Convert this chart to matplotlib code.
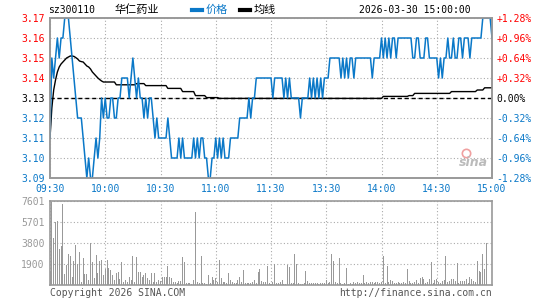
import numpy as np
import matplotlib
matplotlib.use('Agg')
import matplotlib.pyplot as plt
from matplotlib.lines import Line2D

plt.rcParams['font.family'] = ['DejaVu Sans Mono', 'Noto Sans CJK SC']

BLUE = '#0A78C8'
RED = '#FF0000'
GREY = '#999999'

code = 'sz300110'
name = '华仁药业'
stamp = '2026-03-30 15:00:00'
prev_close = 3.13

# one value per minute, 09:30 .. 11:30, 13:01 .. 15:00
price = [
    3.11, 3.15, 3.14, 3.15, 3.16, 3.15, 3.16, 3.16, 3.17, 3.17,
    3.17, 3.16, 3.15, 3.14, 3.13, 3.12, 3.12, 3.12, 3.11, 3.10,
    3.09, 3.10, 3.09, 3.09, 3.10, 3.11, 3.10, 3.11, 3.13, 3.12,
    3.13, 3.12, 3.12, 3.13, 3.13, 3.12, 3.12, 3.13, 3.13, 3.14,
    3.14, 3.14, 3.14, 3.13, 3.14, 3.15, 3.14, 3.13, 3.14, 3.13,
    3.13, 3.12, 3.13, 3.12, 3.13, 3.13, 3.12, 3.11, 3.12, 3.11,
    3.11, 3.11, 3.11, 3.11, 3.12, 3.11, 3.10, 3.10, 3.10, 3.10,
    3.11, 3.10, 3.11, 3.10, 3.10, 3.10, 3.10, 3.10, 3.11, 3.10,
    3.11, 3.10, 3.11, 3.11, 3.10, 3.10, 3.09, 3.09, 3.10, 3.10,
    3.11, 3.10, 3.11, 3.10, 3.11, 3.10, 3.10, 3.10, 3.11, 3.11,
    3.11, 3.11, 3.11, 3.12, 3.12, 3.12, 3.12, 3.12, 3.13, 3.12,
    3.13, 3.13, 3.14, 3.14, 3.14, 3.14, 3.14, 3.14, 3.14, 3.14,
    3.14, 3.13, 3.14, 3.14, 3.14, 3.14, 3.14, 3.13, 3.14, 3.13,
    3.14, 3.13, 3.13, 3.13, 3.13, 3.13, 3.12, 3.13, 3.13, 3.13,
    3.13, 3.14, 3.13, 3.14, 3.13, 3.14, 3.13, 3.14, 3.13, 3.14,
    3.14, 3.14, 3.15, 3.15, 3.15, 3.15, 3.15, 3.15, 3.14, 3.15,
    3.14, 3.15, 3.14, 3.15, 3.15, 3.14, 3.15, 3.15, 3.15, 3.15,
    3.15, 3.15, 3.15, 3.15, 3.15, 3.14, 3.15, 3.15, 3.15, 3.15,
    3.16, 3.15, 3.16, 3.15, 3.16, 3.15, 3.16, 3.16, 3.15, 3.16,
    3.16, 3.16, 3.16, 3.16, 3.16, 3.16, 3.16, 3.15, 3.15, 3.16,
    3.16, 3.15, 3.15, 3.15, 3.16, 3.16, 3.15, 3.15, 3.15, 3.15,
    3.15, 3.14, 3.15, 3.14, 3.15, 3.15, 3.16, 3.15, 3.15, 3.16,
    3.15, 3.15, 3.16, 3.16, 3.15, 3.16, 3.16, 3.16, 3.15, 3.16,
    3.16, 3.16, 3.16, 3.16, 3.16, 3.17, 3.17, 3.17, 3.17, 3.17,
    3.16,
]

avg_price = [
    3.1100, 3.1250, 3.1340, 3.1390, 3.1430, 3.1455, 3.1470, 3.1480, 3.1490, 3.1500,
    3.1505, 3.1510, 3.1510, 3.1508, 3.1502, 3.1495, 3.1485, 3.1482, 3.1480, 3.1470,
    3.1460, 3.1455, 3.1445, 3.1430, 3.1420, 3.1410, 3.1400, 3.1392, 3.1385, 3.1380,
    3.1380, 3.1380, 3.1380, 3.1380, 3.1380, 3.1380, 3.1366, 3.1366, 3.1366, 3.1366,
    3.1366, 3.1366, 3.1366, 3.1366, 3.1366, 3.1366, 3.1366, 3.1372, 3.1372, 3.1372,
    3.1372, 3.1372, 3.1362, 3.1362, 3.1362, 3.1362, 3.1362, 3.1362, 3.1362, 3.1362,
    3.1362, 3.1362, 3.1362, 3.1362, 3.1348, 3.1348, 3.1348, 3.1348, 3.1348, 3.1348,
    3.1348, 3.1348, 3.1332, 3.1332, 3.1332, 3.1332, 3.1332, 3.1332, 3.1332, 3.1312,
    3.1312, 3.1312, 3.1312, 3.1312, 3.1312, 3.1302, 3.1302, 3.1302, 3.1302, 3.1302,
    3.1302, 3.1302, 3.1298, 3.1298, 3.1298, 3.1298, 3.1298, 3.1298, 3.1298, 3.1298,
    3.1298, 3.1298, 3.1298, 3.1298, 3.1298, 3.1298, 3.1298, 3.1298, 3.1298, 3.1298,
    3.1298, 3.1298, 3.1298, 3.1298, 3.1298, 3.1298, 3.1298, 3.1298, 3.1298, 3.1298,
    3.1298, 3.1298, 3.1298, 3.1298, 3.1298, 3.1298, 3.1298, 3.1298, 3.1298, 3.1298,
    3.1298, 3.1298, 3.1298, 3.1298, 3.1298, 3.1298, 3.1298, 3.1298, 3.1298, 3.1298,
    3.1298, 3.1298, 3.1298, 3.1298, 3.1298, 3.1298, 3.1298, 3.1298, 3.1298, 3.1298,
    3.1298, 3.1298, 3.1298, 3.1298, 3.1298, 3.1298, 3.1298, 3.1298, 3.1298, 3.1298,
    3.1298, 3.1298, 3.1298, 3.1298, 3.1298, 3.1298, 3.1298, 3.1298, 3.1298, 3.1298,
    3.1298, 3.1298, 3.1298, 3.1298, 3.1298, 3.1298, 3.1298, 3.1298, 3.1298, 3.1298,
    3.1298, 3.1308, 3.1308, 3.1308, 3.1308, 3.1308, 3.1308, 3.1308, 3.1308, 3.1308,
    3.1308, 3.1308, 3.1308, 3.1308, 3.1308, 3.1312, 3.1312, 3.1312, 3.1323, 3.1323,
    3.1323, 3.1323, 3.1323, 3.1323, 3.1323, 3.1323, 3.1323, 3.1323, 3.1323, 3.1323,
    3.1323, 3.1323, 3.1323, 3.1323, 3.1323, 3.1323, 3.1323, 3.1323, 3.1332, 3.1332,
    3.1332, 3.1332, 3.1332, 3.1332, 3.1332, 3.1332, 3.1332, 3.1332, 3.1332, 3.1332,
    3.1332, 3.1332, 3.1340, 3.1340, 3.1340, 3.1340, 3.1351, 3.1351, 3.1351, 3.1351,
    3.1351,
]

volume = [
    1300, 7540, 4220, 5670, 5820, 3260, 3530, 7330, 1000, 1810,
    2800, 2620, 750, 2200, 3620, 1900, 2990, 300, 2440, 1000,
    1000, 450, 3770, 2110, 600, 2715, 1055, 2170, 2260, 900,
    1420, 2260, 1510, 1360, 900, 450, 1055, 1200, 510, 2110,
    300, 450, 300, 750, 450, 2620, 300, 2560, 1176, 1176,
    750, 900, 1055, 600, 450, 1115, 300, 1115, 300, 450,
    360, 694, 754, 754, 1720, 754, 600, 300, 300, 150,
    390, 360, 2560, 2110, 150, 210, 150, 90, 450, 6640,
    300, 150, 2620, 210, 150, 90, 900, 150, 750, 450,
    600, 300, 2260, 600, 270, 300, 210, 1055, 450, 300,
    150, 210, 450, 750, 300, 1360, 150, 150, 150, 210,
    270, 450, 150, 1200, 1420, 360, 270, 300, 1720, 150,
    90, 300, 1900, 150, 150, 300, 450, 90, 90, 1810,
    1600, 150, 150, 2800, 1900, 150, 90, 90, 150, 1300,
    400, 200, 150, 150, 200, 150, 90, 150, 150, 150,
    450, 150, 300, 2800, 2200, 300, 150, 2440, 150, 90,
    150, 1540, 90, 150, 90, 300, 200, 250, 150, 200,
    900, 150, 250, 150, 300, 280, 200, 240, 300, 150,
    300, 2620, 150, 1720, 300, 450, 350, 200, 150, 300,
    150, 200, 300, 150, 1420, 380, 200, 150, 300, 450,
    150, 600, 694, 570, 150, 300, 570, 2080, 150, 450,
    500, 300, 150, 380, 450, 2620, 270, 380, 540, 500,
    400, 1960, 150, 340, 400, 340, 570, 200, 694, 500,
    340, 300, 2200, 1240, 1146, 2800, 1420, 3770, 0, 0,
    0,
]

price_ticks = [3.09, 3.10, 3.11, 3.12, 3.13, 3.14, 3.15, 3.16, 3.17]
pct_labels = ['-1.28%', '-0.96%', '-0.64%', '-0.32%', '0.00%',
              '+0.32%', '+0.64%', '+0.96%', '+1.28%']
time_ticks = [0, 30, 60, 90, 120, 150, 180, 210, 240]
time_labels = ['09:30', '10:00', '10:30', '11:00', '11:30',
               '13:30', '14:00', '14:30', '15:00']
vol_ticks = [1900, 3800, 5701, 7601]


def label_color(v):
    if abs(v - prev_close) < 1e-9:
        return 'black'
    return RED if v > prev_close else BLUE


fig = plt.figure(figsize=(5.45, 3.0), dpi=100)
ax = fig.add_axes([50 / 545, 122 / 300, 442 / 545, 160 / 300])
vax = fig.add_axes([50 / 545, 15 / 300, 442 / 545, 84 / 300])

minutes = np.arange(len(price))

# price panel
ax.axhline(prev_close, color='black', lw=1.0, ls=(0, (3, 2)), zorder=2)
ax.plot(minutes, avg_price, color='black', lw=1.0, zorder=3)
ax.plot(minutes, price, color=BLUE, lw=1.1, zorder=4)
ax.set_xlim(0, 240)
ax.set_ylim(3.09, 3.17)
ax.set_xticks(time_ticks)
ax.set_xticklabels(time_labels)
ax.set_yticks(price_ticks)
ax.set_yticklabels([f'{p:.2f}' for p in price_ticks])
ax.grid(True, color='#aaaaaa', ls=(0, (1, 2)), lw=0.8)
ax.tick_params(length=0, labelsize=7, pad=4)
for lab in ax.get_xticklabels():
    lab.set_color(BLUE)
for lab, p in zip(ax.get_yticklabels(), price_ticks):
    lab.set_color(label_color(p))

rax = ax.twinx()
rax.set_ylim(3.09, 3.17)
rax.set_yticks(price_ticks)
rax.set_yticklabels(pct_labels)
rax.tick_params(length=0, labelsize=7, pad=3)
for lab, p in zip(rax.get_yticklabels(), price_ticks):
    lab.set_color(label_color(p))

# volume panel
vax.bar(minutes, volume, width=0.55, color=GREY, zorder=3)
vax.set_xlim(0, 240)
vax.set_ylim(0, 7601)
vax.set_xticks(time_ticks)
vax.set_xticklabels([])
vax.set_yticks(vol_ticks)
vax.set_yticklabels([str(v) for v in vol_ticks])
vax.grid(True, color='#aaaaaa', ls=(0, (1, 2)), lw=0.8)
vax.tick_params(length=0, labelsize=7, pad=4, labelcolor=GREY)

for a in (ax, rax, vax):
    for s in a.spines.values():
        s.set_color(GREY)
        s.set_linewidth(1.2)

# header
fig.text(48 / 545, 1 - 10 / 300, code, fontsize=7, va='center', ha='left')
fig.text(115 / 545, 1 - 10 / 300, name, fontsize=8, va='center', ha='left',
         family=['Noto Sans CJK SC', 'DejaVu Sans'])
fig.add_artist(Line2D([192 / 545, 202 / 545], [1 - 10 / 300] * 2, color=BLUE, lw=3))
fig.text(206 / 545, 1 - 10 / 300, '价格', fontsize=8, va='center', ha='left', color=BLUE,
         family=['Noto Sans CJK SC', 'DejaVu Sans'])
fig.add_artist(Line2D([240 / 545, 250 / 545], [1 - 10 / 300] * 2, color='black', lw=3))
fig.text(254 / 545, 1 - 10 / 300, '均线', fontsize=8, va='center', ha='left',
         family=['Noto Sans CJK SC', 'DejaVu Sans'])
fig.text(471 / 545, 1 - 10 / 300, stamp, fontsize=7, va='center', ha='right')

# watermark
fig.text(473 / 545, 1 - 162 / 300, 'sina', fontsize=9, va='center', ha='center',
         color='#bbbbbb', style='italic', weight='bold', family='DejaVu Sans')
fig.add_artist(Line2D([466 / 545], [1 - 153 / 300], marker='o', ms=6, mfc='none',
                      mec='#f0a0a0', mew=1.2))

# footer
fig.text(50 / 545, 1 - 293 / 300, 'Copyright 2026 SINA.COM', fontsize=7,
         va='center', ha='left', color='#555555')
fig.text(492 / 545, 1 - 293 / 300, 'http://finance.sina.com.cn', fontsize=7,
         va='center', ha='right', color='#555555')

fig.savefig('out.png', dpi=100)
